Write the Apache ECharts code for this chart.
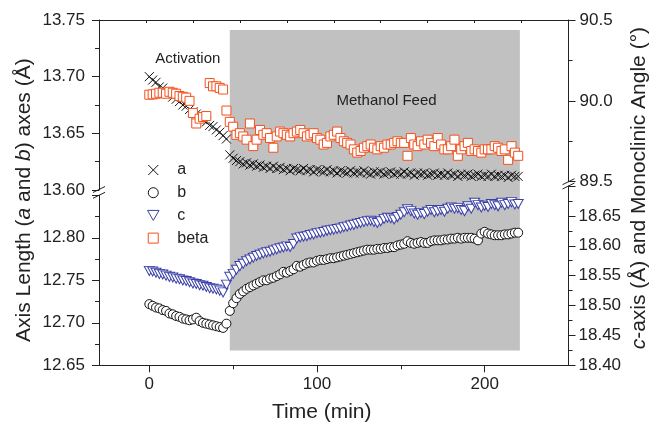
<!DOCTYPE html>
<html>
<head>
<meta charset="utf-8">
<script src="https://cdn.jsdelivr.net/npm/echarts@6/dist/echarts.min.js"></script>
<style>html,body{margin:0;padding:0;background:#fff;}#chart{width:655px;height:423px;}</style>
</head>
<body>
<div id="chart"></div>
<script>
// ---- data ----
const time = [
  0,2,4,6,8,10,12,14,16,18,20,22,24,26,28,30,32,34,36,38,40,42,44,46,
  48,50,52,54,56,58,60,62,64,66,68,70,72,74,76,78,80,82,84,86,88,90,92,94,96,98,
  100,102,104,106,108,110,112,114,116,118,120,122,124,126,128,130,132,134,136,138,
  140,142,144,146,148,150,152,154,156,158,160,162,164,166,168,170,172,174,176,178,
  180,182,184,186,188,190,192,194,196,198,200,202,204,206,208,210,212,214,216,218,220
];
const aAxis = [
  13.700,13.697,13.695,13.691,13.690,13.686,13.685,13.682,13.680,13.678,13.675,13.674,13.671,13.669,13.667,13.664,13.662,13.660,13.657,13.656,13.653,13.651,13.648,13.645,
  13.631,13.628,13.626,13.625,13.623,13.624,13.622,13.623,13.621,13.622,13.620,13.621,13.619,13.621,13.619,13.620,13.618,13.619,13.617,13.619,13.618,13.617,13.619,13.617,13.618,13.616,
  13.618,13.617,13.616,13.618,13.616,13.617,13.615,13.617,13.616,13.615,13.617,13.615,13.616,13.615,13.617,13.615,13.614,13.616,13.615,13.616,
  13.614,13.615,13.616,13.614,13.615,13.614,13.616,13.614,13.615,13.613,13.615,13.614,13.615,13.613,13.614,13.615,13.613,13.614,13.613,13.615,
  13.613,13.614,13.612,13.614,13.613,13.614,13.612,13.613,13.614,13.612,13.613,13.612,13.614,13.612,13.613,13.612,13.613,13.611,13.613,13.612,13.612
];
const bAxis = [
  12.722,12.720,12.718,12.717,12.715,12.714,12.711,12.710,12.708,12.707,12.705,12.704,12.703,12.704,12.706,12.702,12.700,12.699,12.698,12.697,12.696,12.695,12.694,12.699,
  12.714,12.723,12.729,12.734,12.737,12.740,12.742,12.744,12.746,12.748,12.750,12.750,12.752,12.753,12.755,12.757,12.760,12.759,12.761,12.763,12.767,12.766,12.768,12.770,12.771,12.771,
  12.773,12.774,12.774,12.775,12.776,12.776,12.777,12.778,12.779,12.780,12.781,12.782,12.783,12.784,12.785,12.786,12.786,12.786,12.787,12.787,
  12.788,12.788,12.789,12.789,12.791,12.792,12.793,12.796,12.794,12.793,12.794,12.795,12.794,12.794,12.796,12.797,12.797,12.797,12.798,12.798,
  12.799,12.799,12.800,12.799,12.800,12.800,12.800,12.799,12.797,12.805,12.807,12.805,12.804,12.803,12.803,12.803,12.804,12.804,12.805,12.806,12.806
];
const cAxis = [
  18.558,18.557,18.555,18.553,18.552,18.550,18.548,18.547,18.545,18.544,18.542,18.541,18.539,18.537,18.536,18.534,18.533,18.531,18.529,18.528,18.527,18.525,18.522,18.535,
  18.548,18.553,18.560,18.566,18.570,18.574,18.577,18.580,18.583,18.585,18.587,18.589,18.590,18.592,18.594,18.596,18.597,18.599,18.598,18.603,18.612,18.614,18.615,18.616,18.618,18.619,
  18.621,18.622,18.623,18.625,18.626,18.627,18.628,18.629,18.631,18.632,18.634,18.635,18.637,18.638,18.640,18.641,18.642,18.640,18.638,18.641,
  18.645,18.647,18.646,18.644,18.648,18.652,18.656,18.661,18.658,18.654,18.652,18.655,18.653,18.657,18.660,18.656,18.658,18.660,18.657,18.662,
  18.664,18.662,18.663,18.660,18.658,18.666,18.662,18.672,18.668,18.664,18.667,18.665,18.670,18.668,18.666,18.672,18.668,18.670,18.673,18.669,18.670
];
const beta = [
  90.038,90.040,90.044,90.050,90.050,90.044,90.056,90.050,90.044,90.030,90.025,90.020,90.000,89.925,89.860,89.890,89.900,89.906,90.110,90.090,90.090,90.080,90.070,89.940,
  89.870,89.840,89.790,89.800,89.780,89.760,89.860,89.720,89.760,89.820,89.790,89.800,89.770,89.710,89.780,89.810,89.800,89.790,89.780,89.800,89.810,89.820,89.800,89.780,89.790,89.800,
  89.770,89.760,89.730,89.740,89.780,89.790,89.810,89.770,89.750,89.740,89.730,89.700,89.680,89.690,89.710,89.720,89.730,89.710,89.700,89.720,
  89.710,89.730,89.730,89.740,89.750,89.740,89.740,89.660,89.770,89.730,89.720,89.750,89.730,89.760,89.740,89.720,89.770,89.730,89.700,89.700,
  89.720,89.760,89.660,89.700,89.720,89.740,89.690,89.700,89.690,89.680,89.700,89.700,89.700,89.720,89.710,89.690,89.700,89.635,89.720,89.680,89.660
];
const seriesNames = ['a', 'b', 'c', 'beta'];
const xTickLabels = [0, 100, 200];
const xMinorTicks = [50, 150];
const feedWindow = [48, 221];
const annotations = [
  {name: 'Activation', t: 23, v: 13.7156},
  {name: 'Methanol Feed', t: 141.5, v: 13.679}
];

// ---- layout / style ----
const FONT = '"Liberation Sans", Arial, Helvetica, sans-serif';
const TXT = '#222';
const L = 99, R = 568.5, T = 20, B = 365.3, W = 655, H = 423;
const gridR = W - R, gridB = H - B;
const shadeLow = 0.043, shadeHigh = 0.971;

const pts = arr => time.map((t, i) => [t, arr[i]]);
const CROSS = 'path://M0,0L10,10M0,10L10,0';
const TRI_DOWN = 'path://M0,0L10,0L5,8.66Z';
const SQUARE = 'path://M0,0L10,0L10,10L0,10Z';
const ORANGE = '#f4511e';
const BLUE = '#3b40a8';

const grid = (o) => Object.assign({left: L, right: gridR, containLabel: false, outerBoundsMode: 'none'}, o);
const hiddenX = (gi) => ({type: 'value', gridIndex: gi, min: -30, max: 250, show: false, axisLine: {onZero: false}});
const yCommon = {
  type: 'value', splitLine: {show: false},
  axisLine: {show: true, onZero: false, lineStyle: {color: TXT, width: 1}},
  axisTick: {show: true, inside: false, length: 7, lineStyle: {color: TXT}},
  minorTick: {show: true, splitNumber: 2, length: 4, lineStyle: {color: TXT}},
  axisLabel: {color: TXT, fontSize: 17, fontFamily: FONT}
};

const chart = echarts.init(document.getElementById('chart'), null, {renderer: 'canvas'});
const option = {
  animation: false,
  backgroundColor: '#fff',
  textStyle: {fontFamily: FONT},
  grid: [
    grid({top: T, bottom: gridB}),          // 0 frame
    grid({top: T, height: 170}),            // 1 a
    grid({top: T, height: 161.7}),          // 2 beta
    grid({top: 195.3, bottom: gridB}),      // 3 b
    grid({top: 186, bottom: gridB})         // 4 c
  ],
  xAxis: [
    {type: 'value', gridIndex: 0, min: -30, max: 250, position: 'bottom',
     name: 'Time (min)', nameLocation: 'middle', nameGap: 36,
     nameTextStyle: {fontSize: 21, color: TXT, fontFamily: FONT, padding: [0, 24, 0, 0]},
     splitLine: {show: false},
     axisLine: {show: true, onZero: false, lineStyle: {color: TXT, width: 1}},
     axisTick: {show: true, length: 7, customValues: xTickLabels, lineStyle: {color: TXT}},
     axisLabel: {show: true, customValues: xTickLabels, margin: 11, color: TXT, fontSize: 17, fontFamily: FONT}},
    {type: 'value', gridIndex: 0, min: 0, max: 10, interval: 1, position: 'top',
     splitLine: {show: false},
     axisLine: {show: true, onZero: false, lineStyle: {color: TXT, width: 1}},
     axisTick: {show: true, inside: true, length: 3, lineStyle: {color: TXT}},
     axisLabel: {show: false}},
    hiddenX(1), hiddenX(2),
    {type: 'value', gridIndex: 3, min: -30, max: 250, position: 'bottom',
     splitLine: {show: false}, axisLine: {show: false, onZero: false},
     axisTick: {show: true, length: 4, customValues: xMinorTicks, lineStyle: {color: TXT}},
     axisLabel: {show: false}},
    hiddenX(4)
  ],
  yAxis: [
    {type: 'value', gridIndex: 0, min: 0, max: 1, position: 'left',
     axisLine: {show: false, onZero: false}, axisTick: {show: false}, axisLabel: {show: false}, splitLine: {show: false},
     name: '{r|Axis Length (}{i|a}{r| and }{i|b}{r|) axes (Å)}', nameLocation: 'middle', nameGap: 64, nameRotate: 90,
     nameTextStyle: {padding: [0, 15, 0, 0], rich: {
       r: {fontSize: 21, color: TXT, fontFamily: FONT},
       i: {fontSize: 21, color: TXT, fontFamily: FONT, fontStyle: 'italic'}}}},
    {type: 'value', gridIndex: 0, min: 0, max: 1, position: 'right',
     axisLine: {show: false, onZero: false}, axisTick: {show: false}, axisLabel: {show: false}, splitLine: {show: false},
     name: '{i|c}{r|-axis (Å) and Monoclinic Angle (°)}', nameLocation: 'middle', nameGap: 60, nameRotate: 90,
     nameTextStyle: {padding: [0, 0, 0, 9], rich: {
       r: {fontSize: 21, color: TXT, fontFamily: FONT},
       i: {fontSize: 21, color: TXT, fontFamily: FONT, fontStyle: 'italic'}}}},
    Object.assign({}, yCommon, {gridIndex: 1, position: 'left', min: 13.60, max: 13.75, interval: 0.05,
      axisLabel: Object.assign({}, yCommon.axisLabel, {margin: 14, formatter: v => v.toFixed(2)})}),
    Object.assign({}, yCommon, {gridIndex: 2, position: 'right', min: 89.5, max: 90.5, interval: 0.5,
      axisLabel: Object.assign({}, yCommon.axisLabel, {margin: 11, formatter: v => v.toFixed(1)})}),
    Object.assign({}, yCommon, {gridIndex: 3, position: 'left', min: 12.65, max: 12.85, interval: 0.05,
      axisLabel: Object.assign({}, yCommon.axisLabel, {margin: 14, showMaxLabel: false, formatter: v => v.toFixed(2)})}),
    Object.assign({}, yCommon, {gridIndex: 4, position: 'right', min: 18.40, max: 18.70, interval: 0.05,
      axisLabel: Object.assign({}, yCommon.axisLabel, {margin: 10, showMaxLabel: false, formatter: v => v.toFixed(2)})})
  ],
  legend: {
    orient: 'vertical', left: 142, top: 157, itemWidth: 38, itemHeight: 10, itemGap: 6.7,
    data: seriesNames,
    itemStyle: {borderWidth: 1},
    textStyle: {fontSize: 16, color: TXT, fontFamily: FONT, lineHeight: 16}
  },
  series: [
    {type: 'line', name: 'feed', xAxisIndex: 0, yAxisIndex: 0, data: [], z: 0, silent: true,
     markArea: {silent: true, itemStyle: {color: '#c0c1c0'},
       data: [[{coord: [feedWindow[0], shadeLow]}, {coord: [feedWindow[1], shadeHigh]}]]}},
    {type: 'scatter', name: 'a', xAxisIndex: 2, yAxisIndex: 2, data: pts(aAxis), z: 3,
     symbol: CROSS, symbolSize: 9,
     itemStyle: {color: 'transparent', borderColor: '#111', borderWidth: 1, opacity: 1},
     markPoint: {symbol: 'rect', symbolSize: 0, silent: true,
       label: {show: true, position: 'inside', formatter: '{b}', color: TXT, fontSize: 15, fontFamily: FONT},
       data: annotations.map(d => ({name: d.name, coord: [d.t, d.v]}))}},
    {type: 'scatter', name: 'b', xAxisIndex: 4, yAxisIndex: 4, data: pts(bAxis), z: 3,
     symbol: 'circle', symbolSize: 9,
     itemStyle: {color: '#fff', borderColor: '#111', borderWidth: 1, opacity: 1}},
    {type: 'scatter', name: 'c', xAxisIndex: 5, yAxisIndex: 5, data: pts(cAxis), z: 3,
     symbol: TRI_DOWN, symbolSize: [10, 9],
     itemStyle: {color: '#fff', borderColor: BLUE, borderWidth: 1, opacity: 1}},
    {type: 'scatter', name: 'beta', xAxisIndex: 3, yAxisIndex: 3, data: pts(beta), z: 4,
     symbol: SQUARE, symbolSize: 9,
     itemStyle: {color: '#fff', borderColor: ORANGE, borderWidth: 1, opacity: 1}}
  ],
  graphic: [
    // axis break marks
    {type: 'line', shape: {x1: L - 6, y1: 192.5, x2: L + 6, y2: 186.5}, style: {stroke: TXT, lineWidth: 1}, z: 10},
    {type: 'line', shape: {x1: L - 6, y1: 198.3, x2: L + 6, y2: 192.3}, style: {stroke: TXT, lineWidth: 1}, z: 10},
    {type: 'line', shape: {x1: R - 6, y1: 184.7, x2: R + 6, y2: 178.7}, style: {stroke: TXT, lineWidth: 1}, z: 10},
    {type: 'line', shape: {x1: R - 6, y1: 189, x2: R + 6, y2: 183}, style: {stroke: TXT, lineWidth: 1}, z: 10}
  ]
};
chart.setOption(option);
</script>
</body>
</html>
